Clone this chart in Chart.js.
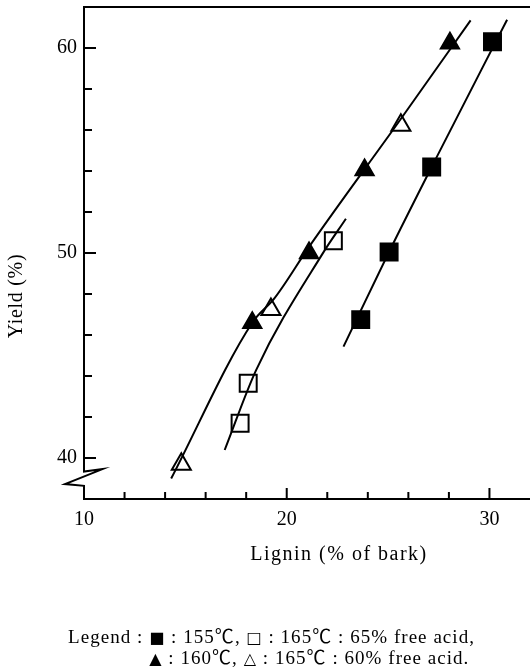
<!DOCTYPE html>
<html>
<head>
<meta charset="utf-8">
<script src="https://cdn.jsdelivr.net/npm/chart.js@4.4.1/dist/chart.umd.min.js"></script>
<style>
  body { margin: 0; background: #fff; }
  #wrap { width: 530px; height: 669px; }
</style>
</head>
<body>
<div id="wrap"><canvas id="grafico" width="530" height="669"></canvas></div>
<script>
// Datos
const sq155X = [23.65, 25.05, 27.15, 30.15];
const sq155Y = [46.75, 50.05, 54.2, 60.3];
const sq155LineX = [22.8, 25.05, 27.15, 30.87];
const sq155LineY = [45.43, 50.06, 54.2, 61.38];

const sq165X = [17.7, 18.1, 22.3];
const sq165Y = [41.7, 43.65, 50.6];
const sq165LineX = [16.94, 18.49, 21.77, 22.92];
const sq165LineY = [40.39, 44.29, 49.97, 51.67];

const tri160X = [18.3, 21.1, 23.84, 28.05];
const tri160Y = [46.6, 50.0, 54.05, 60.23];
const tri165X = [14.8, 19.22, 25.63];
const tri165Y = [39.7, 47.24, 56.23];
const triLineX = [14.3, 18.3, 19.4, 21.1, 25.6, 29.07];
const triLineY = [39.0, 46.6, 47.8, 50.3, 56.5, 61.35];

const xTickLabels = [10, 20, 30];
const yTickLabels = [40, 50, 60];
const pasoMarcas = 2;

// Leyenda: trozos de texto con su tipo de letra
const leyenda1 = [['Legend : ', 't'], ['■', 's'], [' : 155', 't'], ['℃', 'c'], [', ', 't'], ['□', 's'], [' : 165', 't'], ['℃', 'c'], [' : 65% free acid,', 't']];
const leyenda2 = [['▲', 's'], [' : 160', 't'], ['℃', 'c'], [', ', 't'], ['△', 's'], [' : 165', 't'], ['℃', 'c'], [' : 60% free acid.', 't']];

const pares = (xs, ys) => xs.map((v, i) => ({ x: v, y: ys[i] }));

const serif = '"Liberation Serif", "DejaVu Serif", serif';
const fuentes = {
    t: '19px ' + serif,
    s: '16px "DejaVu Sans"',
    c: '19px "Noto Sans CJK JP"'
};

function curva(xs, ys) {
    return {
        type: 'line',
        data: pares(xs, ys),
        borderColor: '#000',
        borderWidth: 2,
        pointRadius: 0,
        cubicInterpolationMode: 'monotone',
        fill: false
    };
}

function puntos(xs, ys, estilo, relleno, radio) {
    return {
        type: 'scatter',
        data: pares(xs, ys),
        pointStyle: estilo,
        pointRadius: radio,
        pointHoverRadius: radio,
        backgroundColor: relleno,
        borderColor: '#000',
        borderWidth: 2,
        showLine: false
    };
}

function anchoTrozos(ctx, trozos, esp) {
    let w = 0;
    trozos.forEach(([txt, f]) => {
        ctx.font = fuentes[f];
        w += ctx.measureText(txt).width + esp * [...txt].length;
    });
    return w;
}

function dibujarTrozos(ctx, trozos, x, y, esp) {
    trozos.forEach(([txt, f]) => {
        ctx.font = fuentes[f];
        for (const ch of txt) {
            ctx.fillText(ch, x, y);
            x += ctx.measureText(ch).width + esp;
        }
    });
    return x;
}

function quitarRelleno(s) {
    s.paddingLeft = 0;
    s.paddingRight = 0;
    s.paddingTop = 0;
    s.paddingBottom = 0;
}

// Ejes, marcas, corte del eje y textos
const marco = {
    id: 'marco',
    afterDraw(chart) {
        const { ctx, chartArea: a, scales: { x, y } } = chart;
        ctx.save();
        ctx.strokeStyle = '#000';
        ctx.lineWidth = 2;
        ctx.lineJoin = 'miter';

        const yCorte = y.getPixelForValue(40) + 13.5;
        ctx.beginPath();
        ctx.moveTo(a.right, a.top);
        ctx.lineTo(a.left, a.top);
        ctx.lineTo(a.left, yCorte);
        ctx.lineTo(a.left + 18.5, yCorte - 2.4);
        ctx.lineTo(a.left - 19, yCorte + 12.6);
        ctx.lineTo(a.left, yCorte + 14.3);
        ctx.lineTo(a.left, a.bottom);
        ctx.lineTo(a.right, a.bottom);
        ctx.stroke();

        ctx.beginPath();
        for (let v = y.min + pasoMarcas; v < y.max; v += pasoMarcas) {
            const p = y.getPixelForValue(v);
            const largo = yTickLabels.includes(v) ? 12 : 8;
            ctx.moveTo(a.left, p);
            ctx.lineTo(a.left + largo, p);
        }
        for (let v = x.min + pasoMarcas; v < x.max; v += pasoMarcas) {
            const p = x.getPixelForValue(v);
            const largo = xTickLabels.includes(v) ? 11 : 7;
            ctx.moveTo(p, a.bottom);
            ctx.lineTo(p, a.bottom - largo);
        }
        ctx.stroke();

        ctx.fillStyle = '#000';
        ctx.font = '20px ' + serif;
        ctx.textBaseline = 'middle';
        ctx.textAlign = 'center';
        ctx.letterSpacing = '1.5px';
        ctx.fillText('Lignin (% of bark)', 339, 555);

        ctx.letterSpacing = '0.7px';
        ctx.save();
        ctx.translate(17, 296);
        ctx.rotate(-Math.PI / 2);
        ctx.fillText('Yield (%)', 0, 0);
        ctx.restore();
        ctx.letterSpacing = '0px';

        // leyenda ajustada al ancho del original
        ctx.textAlign = 'left';
        ctx.textBaseline = 'alphabetic';
        const x0 = 68, x1 = 475;
        const n1 = leyenda1.reduce((s, [t]) => s + [...t].length, 0);
        const esp = (x1 - x0 - anchoTrozos(ctx, leyenda1, 0)) / n1;
        dibujarTrozos(ctx, leyenda1, x0, 643, esp);
        const sangria = anchoTrozos(ctx, [leyenda1[0]], esp);
        dibujarTrozos(ctx, leyenda2, x0 + sangria, 664, esp);
        ctx.restore();
    }
};

const rejillaInvisible = len => ({
    display: true,
    drawOnChartArea: false,
    drawTicks: true,
    tickLength: len,
    color: 'rgba(0,0,0,0)'
});

const ctxGrafico = document.getElementById('grafico').getContext('2d');
new Chart(ctxGrafico, {
    data: {
        datasets: [
            curva(sq155LineX, sq155LineY),
            curva(sq165LineX, sq165LineY),
            curva(triLineX, triLineY),
            puntos(sq155X, sq155Y, 'rect', '#000', 12),
            puntos(sq165X, sq165Y, 'rect', '#fff', 12),
            puntos(tri160X, tri160Y, 'triangle', '#000', 10.5),
            puntos(tri165X, tri165Y, 'triangle', '#fff', 11)
        ]
    },
    options: {
        responsive: false,
        animation: false,
        events: [],
        layout: { autoPadding: false, padding: { top: 7, left: 0, right: 0, bottom: 0 } },
        plugins: {
            legend: { display: false },
            tooltip: { enabled: false }
        },
        scales: {
            x: {
                type: 'linear',
                min: 10,
                max: 32,
                afterFit: s => { s.height = 170; quitarRelleno(s); },
                grid: rejillaInvisible(9),
                border: { display: false },
                ticks: {
                    stepSize: pasoMarcas,
                    autoSkip: false,
                    maxRotation: 0,
                    padding: 0,
                    color: '#000',
                    font: { family: serif, size: 20 },
                    callback: v => xTickLabels.includes(v) ? String(v) : null
                }
            },
            y: {
                type: 'linear',
                min: 38,
                max: 62,
                afterFit: s => { s.width = 84; quitarRelleno(s); },
                grid: rejillaInvisible(7),
                border: { display: false },
                ticks: {
                    stepSize: pasoMarcas,
                    autoSkip: false,
                    padding: 0,
                    color: '#000',
                    font: { family: serif, size: 20 },
                    callback: v => yTickLabels.includes(v) ? String(v) : null
                }
            }
        }
    },
    plugins: [marco]
});
</script>
</body>
</html>
